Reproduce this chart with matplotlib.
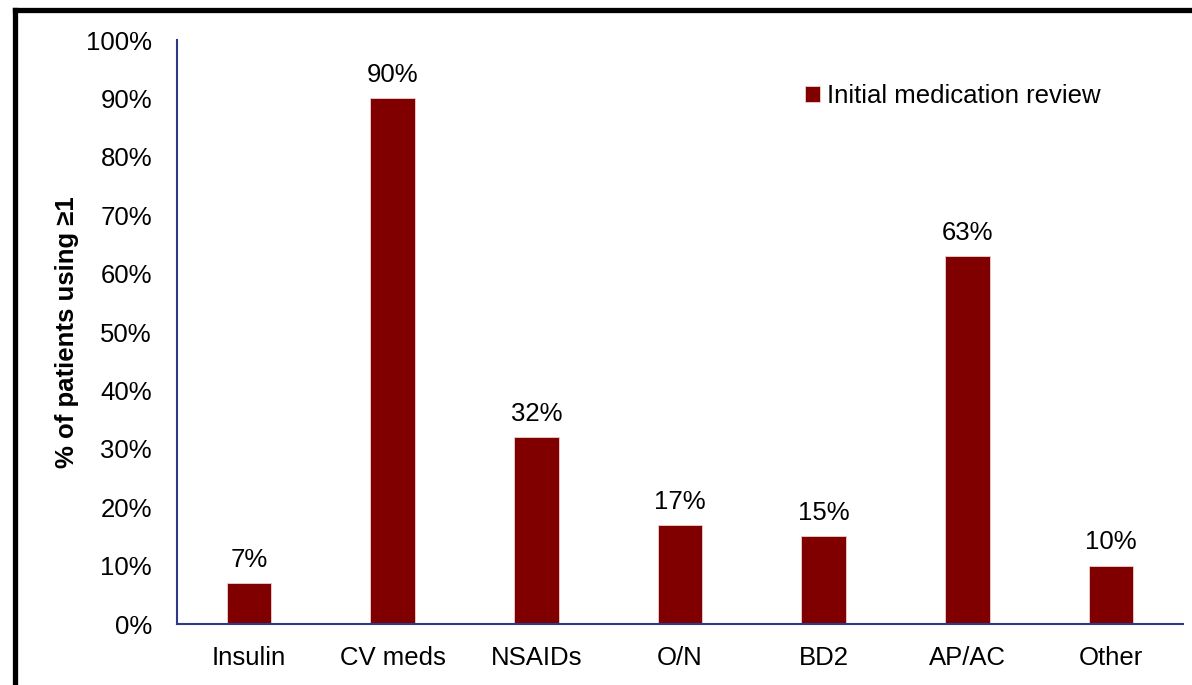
import matplotlib.pyplot as plt
from matplotlib.lines import Line2D
from matplotlib.ticker import PercentFormatter

plt.rcParams['font.family'] = ['Liberation Sans', 'DejaVu Sans']

categories = ['Insulin', 'CV meds', 'NSAIDs', 'O/N', 'BD2', 'AP/AC', 'Other']
values = [7, 90, 32, 17, 15, 63, 10]
series_name = 'Initial medication review'

FS = 18.5
W, H = 1192, 685
fig = plt.figure(figsize=(W / 100, H / 100), dpi=100)
ax = fig.add_axes([177 / W, 1 - 624 / H, (1183 - 177) / W, (624 - 40) / H])

bars = ax.bar(range(len(categories)), values, width=0.31, color='#800000',
              edgecolor='#f0d0d0', linewidth=0.6, label=series_name)
for b, v in zip(bars, values):
    ax.annotate(f'{v}%', (b.get_x() + b.get_width() / 2, v), xytext=(0, 8),
                textcoords='offset points', ha='center', va='bottom', fontsize=FS)

ax.set_xlim(-0.5, len(categories) - 0.5)
ax.set_ylim(0, 100)
ax.set_yticks(range(0, 101, 10))
ax.yaxis.set_major_formatter(PercentFormatter(decimals=0))
ax.set_xticks(range(len(categories)))
ax.set_xticklabels(categories)
ax.tick_params(axis='both', length=0, labelsize=FS)
ax.tick_params(axis='y', pad=18)
ax.tick_params(axis='x', pad=16)

for s in ['top', 'right']:
    ax.spines[s].set_visible(False)
for s in ['left', 'bottom']:
    ax.spines[s].set_color('#2E3A87')
    ax.spines[s].set_linewidth(1.5)

ax.set_ylabel('% of patients using ≥1', fontsize=FS, fontweight='bold', labelpad=5)

ax.legend(loc='center left', bbox_to_anchor=(0.624, 1 - 56 / 584), frameon=False,
          fontsize=FS, borderpad=0, borderaxespad=0,
          handlelength=0.6, handleheight=0.6, handletextpad=0.25)

# outer frame (left and top edges)
fig.add_artist(Line2D([14.5 / W, 14.5 / W], [0, 1 - 9.5 / H], color='black', lw=3.8,
                      transform=fig.transFigure, solid_capstyle='projecting'))
fig.add_artist(Line2D([14.5 / W, 1], [1 - 9.5 / H, 1 - 9.5 / H], color='black', lw=3.8,
                      transform=fig.transFigure, solid_capstyle='projecting'))

fig.savefig('out.png', dpi=100)
